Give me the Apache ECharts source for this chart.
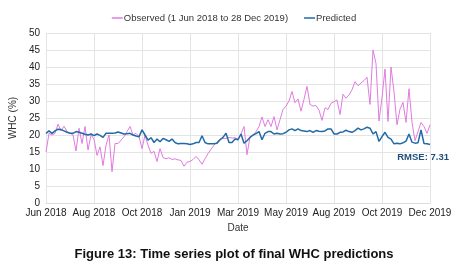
<!DOCTYPE html>
<html>
<head>
<meta charset="utf-8">
<script src="https://cdn.jsdelivr.net/npm/echarts@6/dist/echarts.min.js"></script>
<style>
  html, body { margin: 0; padding: 0; background: #fff; }
  #chart { width: 468px; height: 265px; }
</style>
</head>
<body>
<div id="chart"></div>
<script>
// x axis tick labels, one every 16 samples
const tickLabels = ['Jun 2018', 'Aug 2018', 'Oct 2018', 'Jan 2019', 'Mar 2019',
  'May 2019', 'Aug 2019', 'Oct 2019', 'Dec 2019'];
const step = 16;

// WHC (%)
const observed = [
  15, 20.5, 20, 20.5, 23.2, 21.2, 22.6, 21, 20.5, 20,
  15.3, 22, 17.5, 22.5, 15.6, 20, 18.8, 14, 16.5, 11,
  17, 20, 9.2, 17.5, 17.5, 18.5, 19.5, 21, 22.5, 20,
  20.5, 19.5, 16, 20, 17, 14.6, 15.2, 12.2, 16, 13.4,
  13, 13.3, 12.8, 13, 12.7, 12.5, 10.8, 12, 12.2, 12.8,
  13.7, 12.7, 11.4, 13, 14.5, 15.8, 17, 18, 18.8, 19,
  19, 19.3, 19.1, 19.2, 18.8, 20.3, 22.5, 14.2, 19.5, 19.8,
  21, 22.5, 25.3, 22.5, 24.5, 22.5, 25.4, 21.5, 24.5, 27.5,
  28.5, 30, 32.8, 29.5, 30.6, 27, 30.5, 34.3, 29, 28.5,
  28.7, 27.3, 24.3, 28, 27.5, 29.3, 29.8, 30.3, 26, 32,
  30.8, 31.8, 33.3, 35.7, 34.5, 35.3, 36, 37, 29, 45,
  41, 24.1, 31, 39.4, 24, 40, 32.7, 23, 27.6, 29.6,
  23.7, 33.6, 23.7, 18.3, 21, 23.7, 22.5, 20.5, 23
];
const predicted = [
  20.5, 21.2, 20.5, 21.2, 21.7, 21.6, 21.2, 20.8, 20.5, 20.5,
  21, 20.8, 20.5, 20.2, 20, 20.3, 19.8, 20.3, 19.9, 19.3,
  20.5, 20.5, 20.5, 20.6, 20.9, 20.6, 20.3, 20.4, 20.5, 20,
  19.7, 19.5, 21.5, 20, 18.5, 19.2, 17.8, 18.8, 18, 19,
  18.6, 18.1, 18.8, 17.8, 17.4, 17.5, 17.5, 17.4, 17.2, 17.4,
  17.8, 17.8, 19.8, 17.8, 17.4, 17.4, 17.4, 17.6, 18.6, 19.3,
  20.5, 17.8, 17.8, 18.8, 18.6, 20.3, 17.6, 18.3, 19.3, 20,
  20.4, 21, 18.6, 20.5, 21, 21, 20.3, 20.5, 20.3, 20.4,
  20.8, 21.5, 21.8, 21.3, 21.8, 21.3, 21.2, 21, 21.3, 20.8,
  21.3, 21.1, 21, 21.2, 21.8, 21.8, 20.3, 20.3, 20.8, 20.9,
  21.4, 21, 20.8, 21.3, 22, 21.5, 21.8, 22.3, 22, 20.3,
  21, 18.1, 19.5, 20.8, 19.3, 18.8, 17.4, 17.6, 17.4, 17.7,
  18.2, 20.3, 17.9, 17.6, 17.7, 21.5, 17.5, 17.4, 17.2
];
const rmseText = 'RMSE: 7.31';

const categories = observed.map((_, i) => (i % step === 0 ? tickLabels[i / step] : ''));

const font = 'Liberation Sans';
const chart = echarts.init(document.getElementById('chart'), null, { renderer: 'canvas' });

chart.setOption({
  backgroundColor: '#fff',
  animation: false,
  textStyle: { fontFamily: font },
  title: {
    text: 'Figure 13: Time series plot of final WHC predictions',
    left: 'center',
    top: 243,
    textStyle: { fontFamily: font, fontSize: 13, fontWeight: 'bold', color: '#111' }
  },
  legend: {
    top: 8,
    left: 'center',
    itemWidth: 11,
    itemHeight: 1.5,
    itemGap: 16,
    textStyle: { fontFamily: font, fontSize: 9.5, color: '#333', padding: [0, 0, 0, -4] },
    data: [
      { name: 'Observed (1 Jun 2018 to 28 Dec 2019)', icon: 'rect' },
      { name: 'Predicted', icon: 'rect' }
    ]
  },
  grid: { left: 39, right: 38, top: 33, bottom: 62 },
  xAxis: {
    type: 'category',
    data: categories,
    boundaryGap: false,
    name: 'Date',
    nameLocation: 'middle',
    nameGap: 19,
    nameTextStyle: { fontFamily: font, fontSize: 10, color: '#333' },
    axisLine: { lineStyle: { color: '#dcdcdc' } },
    axisTick: { show: false },
    axisLabel: { interval: step - 1, fontSize: 10, color: '#222', margin: 5 },
    splitLine: { show: true, interval: step - 1, lineStyle: { color: '#e4e4e4' } }
  },
  yAxis: {
    type: 'value',
    min: 0,
    max: 50,
    interval: 5,
    name: 'WHC (%)',
    nameLocation: 'middle',
    nameGap: 21,
    nameTextStyle: { fontFamily: font, fontSize: 10, color: '#333' },
    axisLine: { show: false },
    axisTick: { show: false },
    axisLabel: { fontSize: 10, color: '#222', margin: 6 },
    splitLine: { lineStyle: { color: '#e4e4e4' } }
  },
  graphic: [{
    type: 'text',
    right: 19,
    top: 152,
    style: { text: rmseText, fontFamily: font, fontSize: 9.5, fontWeight: 'bold', fill: '#1f4e79' }
  }],
  series: [
    {
      name: 'Observed (1 Jun 2018 to 28 Dec 2019)',
      type: 'line',
      data: observed,
      symbol: 'none',
      lineStyle: { color: '#e07ce0', width: 1 },
      itemStyle: { color: '#e07ce0' }
    },
    {
      name: 'Predicted',
      type: 'line',
      data: predicted,
      symbol: 'none',
      lineStyle: { color: '#226aa6', width: 1.5 },
      itemStyle: { color: '#226aa6' }
    }
  ]
});
</script>
</body>
</html>
